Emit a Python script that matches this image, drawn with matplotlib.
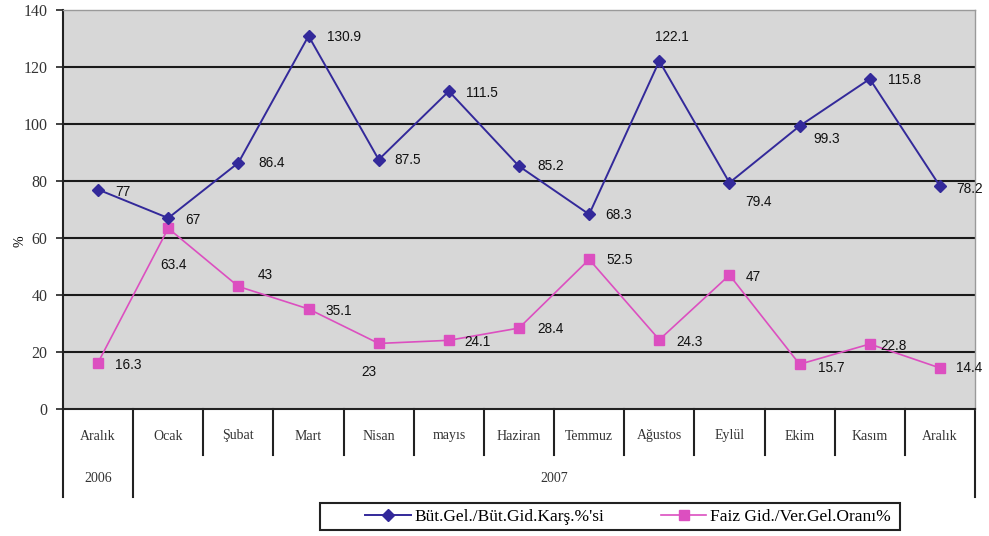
import matplotlib
matplotlib.use("Agg")
import matplotlib.pyplot as plt
import matplotlib.transforms as mtransforms
from matplotlib.patches import Rectangle

# data
months = ["Aralık", "Ocak", "Şubat", "Mart", "Nisan", "mayıs", "Haziran",
          "Temmuz", "Ağustos", "Eylül", "Ekim", "Kasım", "Aralık"]
years = ["2006", "2007"]
but_gel = [77, 67, 86.4, 130.9, 87.5, 111.5, 85.2, 68.3, 122.1, 79.4, 99.3, 115.8, 78.2]
faiz = [16.3, 63.4, 43, 35.1, 23, 24.1, 28.4, 52.5, 24.3, 47, 15.7, 22.8, 14.4]
labels = ["Büt.Gel./Büt.Gid.Karş.%'si", "Faiz Gid./Ver.Gel.Oranı%"]
yticks = [0, 20, 40, 60, 80, 100, 120, 140]

# label offsets in pixels (left edge of text, vertical centre)
but_off = [(17, -2), (17, -2), (20, 0), (18, -1), (16, 0), (17, -2), (18, 0),
           (16, -1), (-4, 24), (16, -19), (14, -13), (18, -1), (16, -3)]
faiz_off = [(17, -2), (-8, -37), (19, 11), (17, -2), (-17, -29), (16, -2), (18, -1),
            (17, -1), (17, -2), (16, -2), (18, -4), (11, -2), (16, 0)]

BLUE = "#33299a"
PINK = "#dc4fc0"
serif = "Liberation Serif"
sans = "Liberation Sans"

fig = plt.figure(figsize=(9.89, 5.36), dpi=100)
ax = fig.add_axes([63 / 989, 1 - 409 / 536, (975 - 63) / 989, (409 - 10) / 536])
ax.set_facecolor("#d7d7d7")

x = list(range(len(months)))
ax.plot(x, but_gel, color=BLUE, lw=1.4, marker="D", ms=6, mfc=BLUE, mec=BLUE,
        label=labels[0], zorder=4)
ax.plot(x, faiz, color=PINK, lw=1.2, marker="s", ms=6.5, mfc=PINK, mec=PINK,
        label=labels[1], zorder=3)

for xi, v, (dx, dy) in zip(x, but_gel, but_off):
    ax.annotate(f"{v:g}", (xi, v), xytext=(dx, dy), textcoords="offset pixels",
                ha="left", va="center", fontsize=9.8, family=sans, color="#111111",
                annotation_clip=False, zorder=5)
for xi, v, (dx, dy) in zip(x, faiz, faiz_off):
    ax.annotate(f"{v:g}", (xi, v), xytext=(dx, dy), textcoords="offset pixels",
                ha="left", va="center", fontsize=9.8, family=sans, color="#111111",
                annotation_clip=False, zorder=5)

ax.set_xlim(-0.5, len(months) - 0.5)
ax.set_ylim(0, 140)
ax.set_yticks(yticks)
ax.set_yticklabels([str(t) for t in yticks], family=serif, fontsize=11.5, color="#333333")
for t in yticks[1:-1]:
    ax.axhline(t, color="#1a1a1a", lw=1.5, zorder=1)
ax.set_xticks([])
ax.tick_params(axis="y", length=5, width=1.2, color="#222222", pad=6)
ax.set_ylabel("%", family=serif, fontsize=10, rotation=90)
ax.yaxis.set_label_coords(-37 / 912, 0.42)

for s in ["top", "right"]:
    ax.spines[s].set_color("#9a9a9a")
    ax.spines[s].set_linewidth(1.0)
ax.spines["left"].set_color("#222222")
ax.spines["left"].set_linewidth(1.5)
ax.spines["bottom"].set_color("#222222")
ax.spines["bottom"].set_linewidth(1.5)

# category table below the axis
trans = mtransforms.blended_transform_factory(ax.transData, ax.transAxes)
row1 = -46 / 399
row2 = -88 / 399
for i, m in enumerate(months):
    ax.text(i, -27 / 399, m, transform=trans, ha="center", va="center",
            family=serif, fontsize=10, color="#333333")
for b in range(1, len(months)):
    bottom = row2 if b == 1 else row1
    ax.plot([b - 0.5, b - 0.5], [0, bottom], transform=trans, color="#222222",
            lw=1.5, clip_on=False)
for b in [-0.5, len(months) - 0.5]:
    ax.plot([b, b], [0, row2], transform=trans, color="#222222", lw=1.5, clip_on=False)
ax.text(0, -69 / 399, years[0], transform=trans, ha="center", va="center",
        family=serif, fontsize=10, color="#333333")
ax.text((1 + len(months) - 1) / 2, -69 / 399, years[1], transform=trans,
        ha="center", va="center", family=serif, fontsize=10, color="#333333")

# legend with a wide Excel-style box
fig.patches.append(Rectangle((320 / 989, 1 - 530 / 536), 580 / 989, 27 / 536,
                             transform=fig.transFigure, fill=False,
                             edgecolor="#222222", lw=1.5))
fig.legend(loc="center", bbox_to_anchor=(628 / 989, 1 - 516.5 / 536), ncol=2,
           frameon=False, prop={"family": serif, "size": 12.5}, handlelength=2.6,
           columnspacing=3.3, borderpad=0.25, handletextpad=0.2)

fig.savefig("out.png", dpi=100, facecolor="white")
